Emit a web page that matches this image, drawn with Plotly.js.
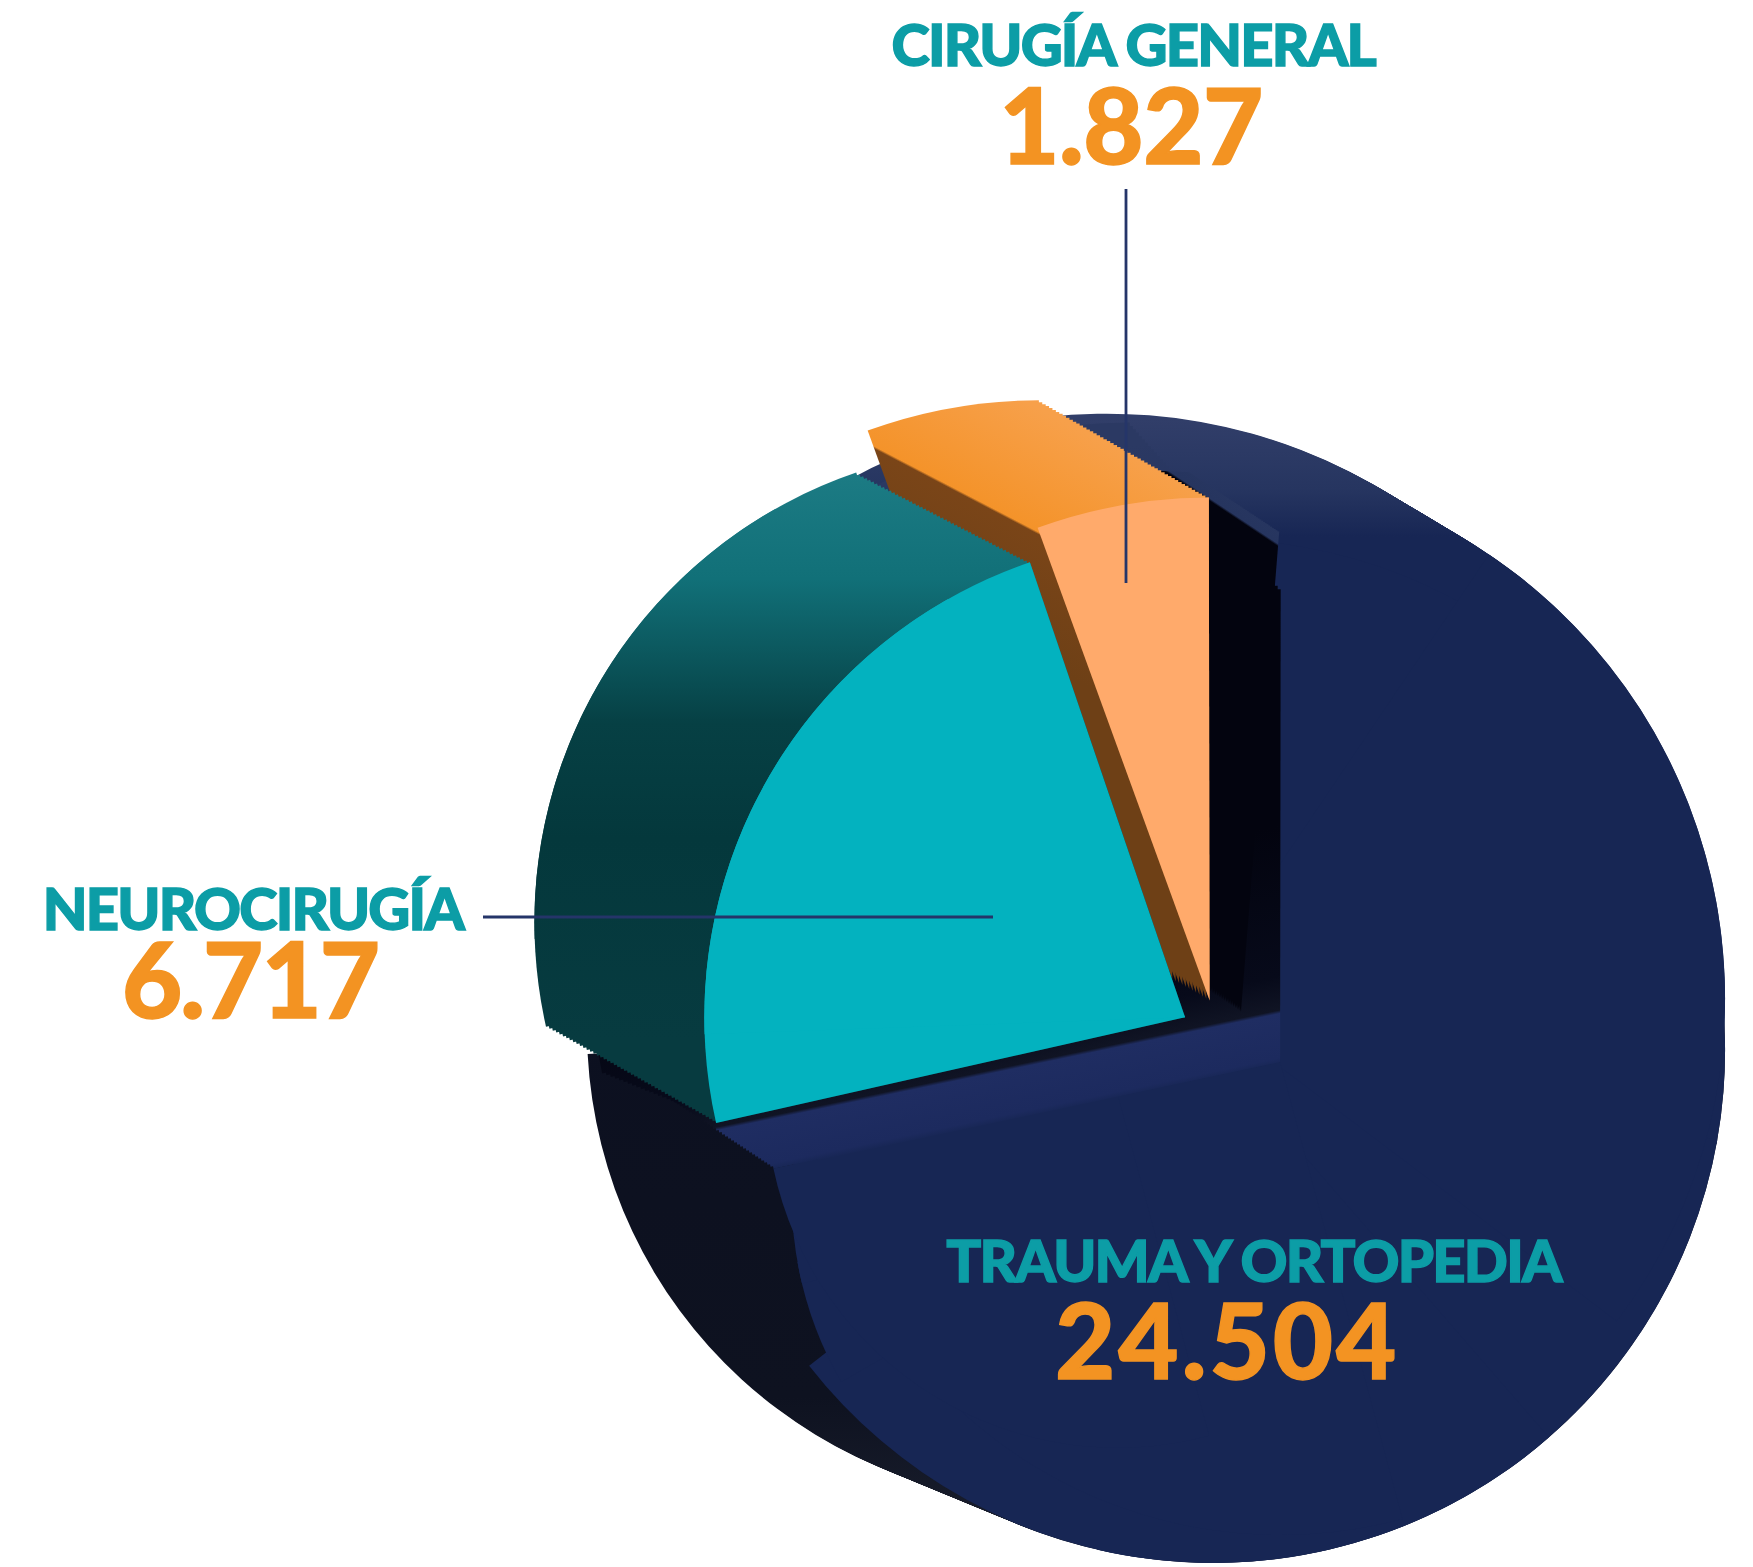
<!DOCTYPE html>
<html><head><meta charset="utf-8">
<script src="https://cdn.plot.ly/plotly-3.0.1.min.js"></script>
<style>html,body{margin:0;padding:0;background:#fff}#chart{width:1753px;height:1567px}</style>
</head><body><div id="chart"></div>
<script>
const categories = ["TRAUMA Y ORTOPEDIA", "NEUROCIRUGÍA", "CIRUGÍA GENERAL"];
const values = [24504, 6717, 1827];
const valueLabels = ["24.504", "6.717", "1.827"];
const textTeal = "#0c9da6", textOrange = "#f39322", leader = "#253569";

const W = 1753, H = 1567, S = W / 1568;
const total = values[0] + values[1] + values[2];
const [navy, teal, orange] = values;
const others = total - navy;
const traces = [], grads = [];
const N = 50;

function slice(v, cx, cy, r, rot, fill, name) {
  cx *= S; cy *= S; r *= S;
  traces.push({
    type: "pie", values: [v, total - v], labels: [name, "resto"], sort: false, direction: "clockwise",
    rotation: rot, textinfo: "none", hoverinfo: "skip", showlegend: false,
    domain: { x: [(cx - r) / W, (cx + r) / W], y: [1 - (cy + r) / H, 1 - (cy - r) / H] },
    marker: { colors: [fill.startsWith("#") ? fill : "#000", "rgba(0,0,0,0)"], line: { width: 0 } }
  });
  grads.push(fill.startsWith("#") ? null : fill);
}
function stack(v, back, front, rots, fill, name) {
  for (let i = 0; i <= N; i++) {
    const t = i / N;
    rots.forEach(rot => slice(v,
      back[0] + (front[0] - back[0]) * t,
      back[1] + (front[1] - back[1]) * t,
      back[2] + (front[2] - back[2]) * t, rot, fill, name));
  }
}
const faceNavy = "#172654";
// lower-left and upper-right outer walls of the big slice
stack(navy, [950, 920, 425], [1085, 940, 458], [0], "gLow", categories[0]);
stack(navy, [990, 850, 480], [1064, 893, 479], [-90], "gUp", categories[0]);
// big slice top face, assembled from pieces to follow the picture's perspective
[7.4, 100, 139].forEach(rot => slice(others, 1085, 940, 458, rot, faceNavy, categories[0]));
slice(others, 1064, 893, 479, 34, faceNavy, categories[0]);
[240, 256.5].forEach(rot => slice(orange, 1039, 1083, 343, rot, faceNavy, categories[0]));
slice(others, 1145, 950, 423, 165, faceNavy, categories[0]);
slice(others, 1000, 980, 315, 165, faceNavy, categories[0]);
// inner walls of the big slice
stack(others, [1010, 860, 482], [1145, 950, 423], [-102, -93], "gWedge", categories[0]);
stack(others, [865, 890, 315], [1000, 980, 315], [-102], "gWedge", categories[0]);
stack(orange, [1030, 852, 431], [1110, 905, 431], [-15.35], "gWall", categories[0]);
// small slice
stack(orange, [930, 808, 450], [1082, 895, 450], [-20], "gOrange", categories[2]);
slice(orange, 1082, 895, 450, -20, "#ffaa6b", categories[2]);
// medium slice
stack(teal, [903, 825, 425], [1060, 910, 430], [-102.7, -92], "gTeal", categories[1]);
slice(teal, 1060, 910, 430, -102.7, "#03b2bf", categories[1]);
slice(teal, 1060, 910, 430, -92, "#03b2bf", categories[1]);

const spacing = [-1.8, 3, -1.8, -2, -1.8, -0.5];
function ann(text, x, y, size, color) {
  return { text, x: x / W, y: 1 - y / H, xref: "paper", yref: "paper", xanchor: "center", yanchor: "middle",
    showarrow: false, borderpad: 0, font: { family: "Lato, 'Open Sans', sans-serif", size, color, weight: 900 } };
}
const layout = {
  width: W, height: H, margin: { l: 0, r: 0, t: 0, b: 0 }, paper_bgcolor: "#fff", showlegend: false,
  annotations: [
    ann(categories[0], 1254, 1259, 58, textTeal), ann(valueLabels[0], 1227, 1338, 104, textOrange),
    ann(categories[1], 254, 907, 58, textTeal), ann(valueLabels[1], 250, 977, 104, textOrange),
    ann(categories[2], 1133, 44, 58, textTeal), ann(valueLabels[2], 1131, 124, 104, textOrange)
  ],
  shapes: [
    { type: "line", xref: "paper", yref: "paper", x0: 1126 / W, x1: 1126 / W, y0: 1 - 189 / H, y1: 1 - 583 / H, line: { color: leader, width: 2.8 } },
    { type: "line", xref: "paper", yref: "paper", x0: 483 / W, x1: 993 / W, y0: 1 - 917 / H, y1: 1 - 917 / H, line: { color: leader, width: 2.8 } }
  ]
};
function gradient(id, from, to, stops) {
  const ns = "http://www.w3.org/2000/svg", g = document.createElementNS(ns, "linearGradient");
  g.setAttribute("id", id); g.setAttribute("gradientUnits", "userSpaceOnUse");
  g.setAttribute("x1", from[0] * S); g.setAttribute("y1", from[1] * S);
  g.setAttribute("x2", to[0] * S); g.setAttribute("y2", to[1] * S);
  stops.forEach(([o, c]) => { const s = document.createElementNS(ns, "stop"); s.setAttribute("offset", o); s.setAttribute("stop-color", c); g.appendChild(s); });
  return g;
}
Plotly.newPlot("chart", traces, layout, { staticPlot: true, displayModeBar: false }).then(gd => {
  const svg = gd.querySelector(".main-svg");
  const defs = document.createElementNS("http://www.w3.org/2000/svg", "defs");
  defs.appendChild(gradient("gLow", [0, 900], [0, 1400], [[0, "#0c1020"], [0.7, "#0e1220"], [1, "#1c2130"]]));
  defs.appendChild(gradient("gUp", [0, 375], [0, 480], [[0, "#313e69"], [0.6, "#263560"], [1, "#172654"]]));
  defs.appendChild(gradient("gWedge", [1100, 380], [1222, 967], [
    [0, "#2b3963"], [0.13, "#25345f"], [0.16, "#03040f"], [0.6, "#03040f"], [0.82, "#070a1a"], [0.87, "#101424"], [0.875, "#1f2d62"], [0.94, "#1c2a5e"], [0.95, "#172654"], [1, "#172654"]]));
  defs.appendChild(gradient("gWall", [1085 + 55.5, 450 - 83.2], [1085 - 55.5, 450 + 83.2], [[0, "#2e3c66"], [0.49, "#26355f"], [0.5, "#03040f"], [1, "#03040f"]]));
  defs.appendChild(gradient("gOrange", [785 + 0.463 * 100, 403 - 0.887 * 100], [785 - 0.463 * 100, 403 + 0.887 * 100], [[0, "#f7a04a"], [0.49, "#f4932a"], [0.5, "#7a4518"], [1, "#6e4016"]]));
  defs.appendChild(gradient("gTeal", [0, 415], [0, 930], [[0, "#1d7c85"], [0.2, "#117078"], [0.45, "#064044"], [0.65, "#04383c"], [1, "#073b40"]]));
  svg.insertBefore(defs, svg.firstChild);
  gd.querySelectorAll(".pielayer .trace").forEach((g, i) => {
    if (!grads[i]) return;
    const p = g.querySelector(".slice .surface");
    if (p) p.style.fill = "url(#" + grads[i] + ")";
  });
  gd.querySelectorAll(".annotation-text").forEach((t, i) => {
    t.style.letterSpacing = spacing[i] + "px";
    t.style.stroke = t.style.fill; t.style.strokeWidth = "1.4px";
  });
});
</script></body></html>
